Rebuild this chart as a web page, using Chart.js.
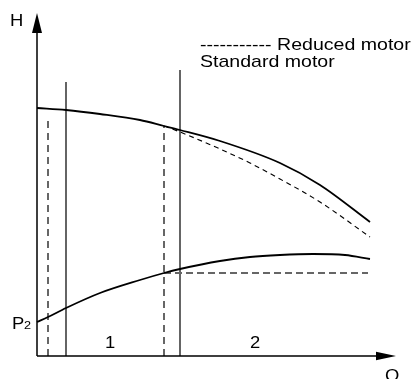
<!DOCTYPE html>
<html>
<head>
<meta charset="utf-8">
<script src="https://cdn.jsdelivr.net/npm/chart.js@4/dist/chart.umd.min.js"></script>
<style>
  body { margin: 0; background: #fff; }
  #wrap { width: 412px; height: 379px; position: relative; }
</style>
</head>
<body>
<div id="wrap"><canvas id="pumpCurve"></canvas></div>
<script>
// Q (flow) and H / P2 values, arbitrary units
const qStdH = [0, 2.9, 6.3, 10.3, 12.7, 14.3, 18.3, 24.3, 28.3, 33.3];
const hStd = [24.8, 24.6, 24.2, 23.6, 23.0, 22.6, 21.5, 19.3, 17.1, 13.4];

const qRedH = [12.7, 14.3, 18.3, 21.3, 24.3, 28.3, 33.3];
const hRed = [23.0, 22.4, 20.7, 19.3, 17.7, 15.4, 11.9];

const qStdP = [0, 1.1, 2.9, 6.3, 10.3, 12.7, 14.3, 18.3, 21.3, 24.3, 27.6, 30.8, 33.3];
const pStd = [3.4, 3.9, 4.8, 6.3, 7.6, 8.3, 8.7, 9.5, 9.9, 10.1, 10.2, 10.1, 9.7];

const qRedP = [12.7, 33.1];
const pRed = [8.3, 8.3];

// range boundaries (solid = standard motor, dashed = reduced motor)
const qLimits = [2.9, 14.3];
const limitTops = [27.4, 28.6];
const qLimitsRed = [1.1, 12.7];
const limitTopsRed = [24.0, 23.0];

const rangeLabels = ["1", "2"];
const rangeLabelQ = [7.3, 21.8];

function pts(xs, ys) {
    return xs.map((x, i) => ({ x: x, y: ys[i] }));
}

const datasets = [];
datasets.push({ data: pts(qStdH, hStd), borderColor: "#000", borderWidth: 1.8, cubicInterpolationMode: "monotone" });
datasets.push({ data: pts(qRedH, hRed), borderColor: "#000", borderWidth: 1.1, borderDash: [5, 4], cubicInterpolationMode: "monotone" });
datasets.push({ data: pts(qStdP, pStd), borderColor: "#000", borderWidth: 1.8, cubicInterpolationMode: "monotone" });
datasets.push({ data: pts(qRedP, pRed), borderColor: "#666", borderWidth: 2, borderDash: [7, 4] });
for (let i = 0; i < qLimits.length; i++) {
    datasets.push({ data: pts([qLimits[i], qLimits[i]], [0, limitTops[i]]), borderColor: "#111", borderWidth: 1.3 });
    datasets.push({ data: pts([qLimitsRed[i], qLimitsRed[i]], [0, limitTopsRed[i]]), borderColor: "#666", borderWidth: 2, borderDash: [7, 5] });
}

// axes with arrow heads and the free text
const decor = {
    id: "decor",
    afterDatasetsDraw(chart) {
        const c = chart.ctx;
        const xs = chart.scales.x, ys = chart.scales.y;
        const X = v => xs.getPixelForValue(v);
        const Y = v => ys.getPixelForValue(v);
        c.save();
        c.strokeStyle = "#000";
        c.fillStyle = "#000";
        c.lineWidth = 1.5;
        c.beginPath();
        c.moveTo(X(0), Y(0));
        c.lineTo(X(0), Y(32.4));
        c.moveTo(X(0), Y(0));
        c.lineTo(X(34), Y(0));
        c.stroke();
        // arrow heads
        c.beginPath();
        c.moveTo(X(0), Y(34.3));
        c.lineTo(X(0) - 5, Y(32.3));
        c.lineTo(X(0) + 5, Y(32.3));
        c.closePath();
        c.fill();
        c.beginPath();
        c.moveTo(X(35.9), Y(0));
        c.lineTo(X(33.9), Y(0) - 4.3);
        c.lineTo(X(33.9), Y(0) + 4.3);
        c.closePath();
        c.fill();

        const txt = (s, x, y, size, align) => {
            c.save();
            c.font = size + "px 'Liberation Sans', Arial, sans-serif";
            c.textAlign = align || "left";
            c.textBaseline = "alphabetic";
            c.translate(x, y);
            c.scale(1.15, 1);
            c.fillText(s, 0, 0);
            c.restore();
        };
        txt("H", 10, 26, 16);
        txt("P", 12, 329, 16);
        txt("2", 24, 329, 11);
        txt("Q", 385, 381, 16);
        for (let i = 0; i < rangeLabels.length; i++) {
            txt(rangeLabels[i], X(rangeLabelQ[i]), 348, 16, "center");
        }
        txt("----------- Reduced motor", 200, 50, 17);
        txt("Standard motor", 200, 67, 17);
        c.restore();
    }
};

new Chart(document.getElementById("pumpCurve"), {
    type: "line",
    data: { datasets: datasets },
    options: {
        responsive: true,
        maintainAspectRatio: false,
        animation: false,
        layout: { padding: 0 },
        elements: { point: { radius: 0 } },
        plugins: { legend: { display: false }, tooltip: { enabled: false } },
        scales: {
            x: { type: "linear", display: false, min: -3.7, max: 37.5 },
            y: { type: "linear", display: false, min: -2.3, max: 35.6 }
        }
    },
    plugins: [decor]
});
</script>
</body>
</html>
